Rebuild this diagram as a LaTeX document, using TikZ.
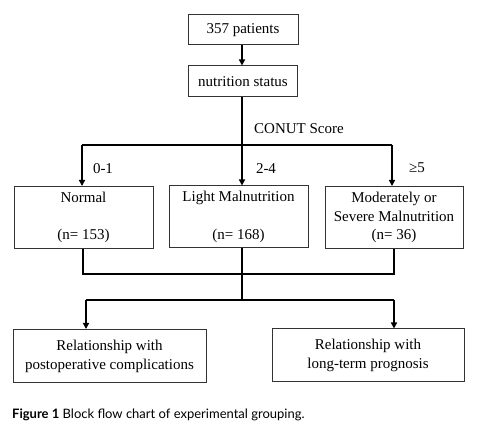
\documentclass[tikz,border=0pt]{standalone}
\usepackage{fontspec}
\setmainfont{Liberation Serif}
\newfontfamily\capfont{Lato}
\usetikzlibrary{arrows.meta}
\begin{document}
\begin{tikzpicture}[x=1pt,y=-1pt,
  box/.style={draw=black!80,line width=1pt,rectangle,inner sep=0pt,align=center,
    font=\fontsize{15}{18.8}\selectfont},
  conn/.style={line width=1.8pt,black},
  arr/.style={conn,-{Triangle[length=6pt,width=6pt]}},
  lbl/.style={font=\fontsize{15}{18}\selectfont,inner sep=0pt}]
\useasboundingbox (0,0) rectangle (483,443);
\node[box,minimum width=110pt,minimum height=30pt] (b1) at (243,30) {357 patients};
\node[box,minimum width=109pt,minimum height=31pt] (b2) at (243,81.5) {nutrition status};
\node[box,minimum width=139pt,minimum height=62pt] (n) at (83.5,217.5) {Normal\\[0pt]\mbox{}\\(n= 153)};
\node[box,minimum width=139pt,minimum height=62pt] (l) at (238.5,217) {Light Malnutrition\\\mbox{}\\(n= 168)};
\node[box,minimum width=138pt,minimum height=62pt] (m) at (394,217.5) {Moderately or\\Severe Malnutrition\\(n= 36)};
\node[box,minimum width=193pt,minimum height=53pt] (p) at (109.5,356) {Relationship with\\postoperative complications};
\node[box,minimum width=192pt,minimum height=53pt] (r) at (368,355.5) {Relationship with\\long-term prognosis};
\coordinate (s1) at (242,145);
\coordinate (s1l) at (82,145);
\coordinate (s1r) at (392,145);
\coordinate (j1) at (242,274);
\coordinate (j1l) at (83,274);
\coordinate (j1r) at (394,274);
\coordinate (s2) at (242,300);
\coordinate (s2l) at (86,300);
\coordinate (s2r) at (394,300);
\draw[arr] (s1 |- b1.south) -- (s1 |- b2.north);
\draw[conn] (s1 |- b2.south) -- (s1);
\draw[conn] (s1l) -- (s1r);
\draw[arr] (s1l) -- (s1l |- n.north);
\draw[arr] (s1) -- (s1 |- l.north);
\draw[arr] (s1r) -- (s1r |- m.north);
\draw[conn] (j1l |- n.south) -- (j1l) -- (j1r) -- (j1r |- m.south);
\draw[conn] (j1 |- l.south) -- (j1) -- (s2);
\draw[conn] (s2l) -- (s2r);
\draw[arr] (s2l) -- (s2l |- p.north);
\draw[arr] (s2r) -- (s2r |- r.north);
\node[lbl] (conut) at (299,129) {CONUT Score};
\node[lbl] (g1) at (103,169) {0-1};
\node[lbl] (g2) at (266,169) {2-4};
\node[lbl] (g3) at (417,168) {≥5};
\node[anchor=west,inner sep=0pt,font=\capfont\fontsize{13}{15}\selectfont] (cap) at (12,415) {\textbf{Figure 1} Block flow chart of experimental grouping.};
\end{tikzpicture}
\end{document}
